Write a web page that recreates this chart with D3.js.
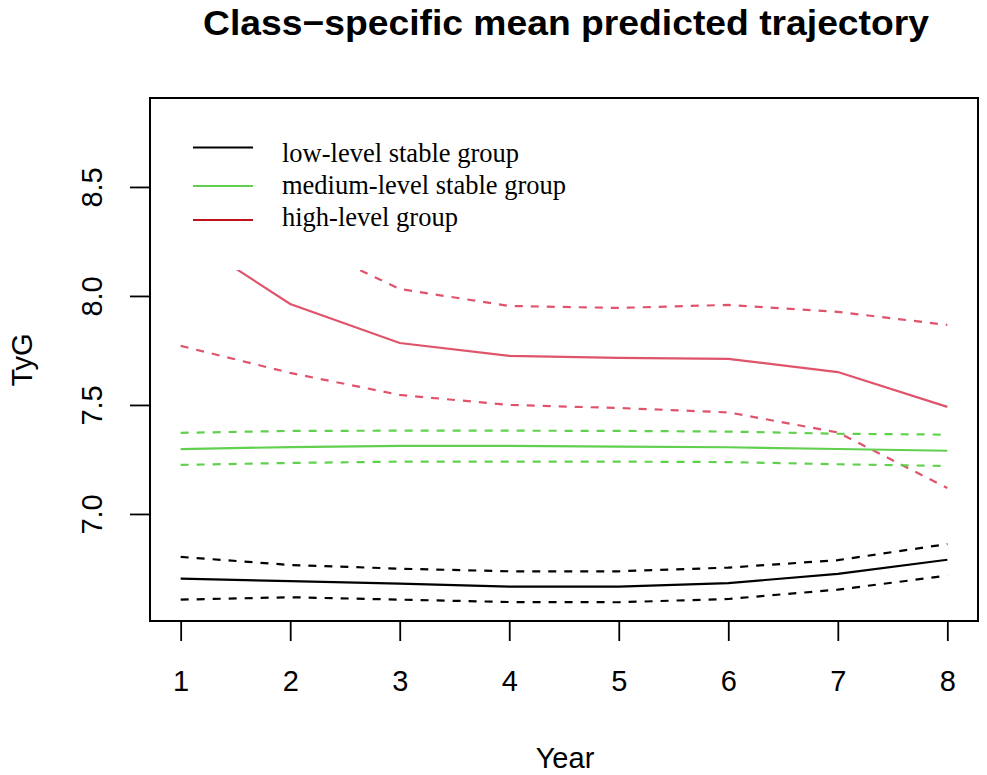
<!DOCTYPE html>
<html>
<head>
<meta charset="utf-8">
<script src="https://cdn.jsdelivr.net/npm/d3@7"></script>
<style>
body{margin:0;background:#fff;}
</style>
</head>
<body>
<svg id="chart" width="987" height="775"></svg>
<script>
// data
var years = [1,2,3,4,5,6,7,8];
var lowMean  = [6.703,6.692,6.680,6.667,6.667,6.683,6.725,6.790];
var lowUpper = [6.803,6.766,6.749,6.737,6.737,6.754,6.788,6.862];
var lowLower = [6.607,6.618,6.607,6.596,6.595,6.610,6.653,6.717];
var medMean  = [7.297,7.307,7.312,7.312,7.309,7.306,7.298,7.290];
var medUpper = [7.372,7.381,7.382,7.382,7.381,7.378,7.368,7.364];
var medLower = [7.225,7.234,7.240,7.240,7.240,7.238,7.228,7.220];
var highMean  = [8.290,7.963,7.784,7.725,7.716,7.711,7.651,7.491];
var highUpper = [8.820,8.270,8.032,7.954,7.945,7.959,7.927,7.867];
var highLower = [7.771,7.647,7.546,7.500,7.486,7.466,7.374,7.119];
var yTicks = [7.0,7.5,8.0,8.5];
var legendLabels = ["low-level stable group","medium-level stable group","high-level group"];

var colLow = "#000000", colMed = "#61D04F", colHigh = "#DF536B";
var legendCols = ["#000000","#61D04F","#c0141c"];

var plotL=150,plotR=978,plotT=98,plotB=621;
var svg = d3.select("#chart");

var x = d3.scaleLinear().domain([0.72,8.28]).range([plotL,plotR]);
var y = d3.scaleLinear().domain([6.509,8.908]).range([plotB,plotT]);

svg.append("clipPath").attr("id","plotclip").append("rect")
  .attr("x",plotL).attr("y",plotT).attr("width",plotR-plotL).attr("height",plotB-plotT);

var line = d3.line().x(function(d,i){return x(years[i]);}).y(function(d){return y(d);});
var series = [
  {v:highUpper,c:colHigh,dash:true},{v:highMean,c:colHigh,dash:false},{v:highLower,c:colHigh,dash:true},
  {v:medUpper,c:colMed,dash:true},{v:medMean,c:colMed,dash:false},{v:medLower,c:colMed,dash:true},
  {v:lowUpper,c:colLow,dash:true},{v:lowMean,c:colLow,dash:false},{v:lowLower,c:colLow,dash:true}
];
var lines = svg.append("g").attr("clip-path","url(#plotclip)");
lines.selectAll("path").data(series).enter().append("path")
  .attr("d",function(d){return line(d.v);})
  .attr("fill","none").attr("stroke",function(d){return d.c;})
  .attr("stroke-width",2.2)
  .attr("stroke-dasharray",function(d){return d.dash?"8,8":null;});

// legend (white background covers lines underneath)
svg.append("rect").attr("x",plotL+2).attr("y",plotT+2).attr("width",450).attr("height",270-plotT-2).attr("fill","#fff");
var lg = svg.append("g");
var legLineY = [147.5,186,220], legTextY = [162,194,226];
legendLabels.forEach(function(t,i){
  lg.append("line").attr("x1",193).attr("x2",253).attr("y1",legLineY[i]).attr("y2",legLineY[i])
    .attr("stroke",legendCols[i]).attr("stroke-width",2.2);
  lg.append("text").attr("x",282).attr("y",legTextY[i]).text(t)
    .attr("font-family","Liberation Serif").attr("font-size","26.5px").attr("fill","#000");
});

// box
svg.append("rect").attr("x",plotL).attr("y",plotT).attr("width",plotR-plotL).attr("height",plotB-plotT)
  .attr("fill","none").attr("stroke","#000").attr("stroke-width",2);

// axes
var xa = svg.append("g").attr("transform","translate(0,"+plotB+")")
  .call(d3.axisBottom(x).tickValues(years).tickSize(20).tickPadding(29).tickFormat(d3.format("d")));
xa.select(".domain").remove();
xa.selectAll("line").attr("stroke-width",1.8);
xa.selectAll("text").attr("font-family","Liberation Sans").attr("font-size","29px").attr("fill","#000");

var ya = svg.append("g").attr("transform","translate("+plotL+",0)")
  .call(d3.axisLeft(y).tickValues(yTicks).tickSize(20).tickFormat(d3.format(".1f")));
ya.select(".domain").remove();
ya.selectAll("line").attr("stroke-width",1.8);
ya.selectAll("text").attr("x",null).attr("dy",null)
  .attr("transform","translate(-48,0) rotate(-90)")
  .attr("text-anchor","middle")
  .attr("font-family","Liberation Sans").attr("font-size","29px").attr("fill","#000");

// titles
svg.append("text").attr("x",566).attr("y",35).attr("text-anchor","middle")
  .attr("font-family","Liberation Sans").attr("font-weight","bold").attr("font-size","35px")
  .attr("textLength",726).attr("lengthAdjust","spacingAndGlyphs")
  .text("Class\u2212specific mean predicted trajectory");
svg.append("text").attr("x",565).attr("y",768).attr("text-anchor","middle")
  .attr("font-family","Liberation Sans").attr("font-size","29px").text("Year");
svg.append("text").attr("transform","translate(32,360) rotate(-90)").attr("text-anchor","middle")
  .attr("font-family","Liberation Sans").attr("font-size","29px").text("TyG");
</script>
</body>
</html>
